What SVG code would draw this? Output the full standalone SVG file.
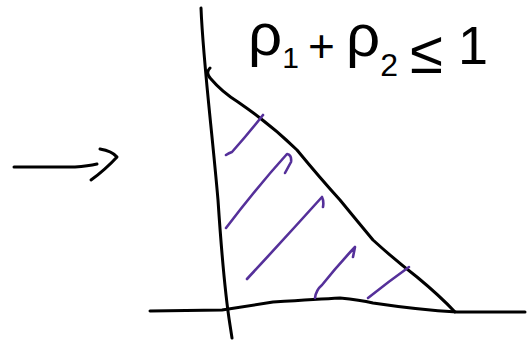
<svg xmlns="http://www.w3.org/2000/svg" width="527" height="348" viewBox="0 0 527 348">
<style>
.ink{fill:none;stroke:#000;stroke-width:3;stroke-linecap:round;stroke-linejoin:round}
.hatch{fill:none;stroke:#55309a;stroke-width:2.6;stroke-linecap:round;stroke-linejoin:round}
.lbl{font-family:"Liberation Sans","DejaVu Sans",sans-serif;fill:#000}
</style>
<rect width="527" height="348" fill="#fff"/>
<g id="arrow">
<path class="ink" d="M14,167 L75,167 Q88,166 97,164"/>
<path class="ink" d="M100,149 Q112,151 117,157 Q105,170 91,180"/>
</g>
<g id="axes">
<path class="ink" d="M201,8 C203,60 212,130 218,200 C222,260 226,300 230,325 L232,338"/>
<path class="ink" d="M150,311 L222,310 Q235,308 273,302 Q320,299 340,298 Q360,300 373,303 Q420,310 457,312 L525,312"/>
</g>
<g id="boundary">
<path class="ink" d="M210,68 Q205,73 211,79 Q222,92 238,102 Q270,124 297,150 Q320,178 340,200 Q358,222 373,240 Q395,260 417,277 Q440,296 455,312"/>
</g>
<g id="hatching">
<path class="hatch" d="M226,155 Q229,153 232,152 Q248,134 263,115"/>
<path class="hatch" d="M226,228 Q258,186 287,154 Q292,155 291,162 L285,173"/>
<path class="hatch" d="M247,279 Q285,238 322,197 Q324,201 323,207"/>
<path class="hatch" d="M315,298 Q316,290 322,285 Q338,265 355,247 L353,257"/>
<path class="hatch" d="M368,298 Q388,282 409,267"/>
</g>
<g id="label">
<text class="lbl" font-size="60" x="248" y="55">ρ<tspan font-size="30" dy="13">1</tspan><tspan font-size="46" x="308" y="62">+</tspan><tspan x="346" y="56">ρ</tspan><tspan font-size="32" dy="20">2</tspan><tspan x="410" y="73">≤</tspan><tspan font-size="54" x="458" y="64">1</tspan></text>
</g>
</svg>
